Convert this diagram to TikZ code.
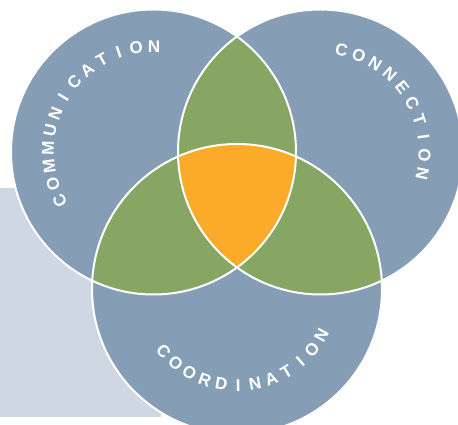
\documentclass[tikz,border=0pt]{standalone}
\usepackage{fontspec}
\newfontfamily\lblfont{Liberation Sans}
\definecolor{vblue}{RGB}{134,158,181}
\definecolor{vgreen}{RGB}{135,165,99}
\definecolor{vorange}{RGB}{251,170,41}
\definecolor{vgrey}{RGB}{207,216,226}
\newcommand{\lblfmt}{\lblfont\bfseries}
\newcommand{\lblscale}{1.7}
\newlength{\chw}
\tikzset{
  ring/.style={draw=white, line width=2pt},
  lettr/.style={font=\lblfmt, text=white, inner sep=0pt, anchor=center, scale=\lblscale}
}
% #1 centre, #2 radius of letter centres, #3 start edge angle, #4 end edge angle, #5 rotation offset, #6 letters
\newcommand{\arcletters}[6]{%
  \gdef\totw{0}\gdef\nlet{0}%
  \foreach \ch in {#6}{\settowidth{\chw}{\lblfmt\ch}\pgfmathsetmacro\tmp{\totw+\chw*\lblscale}\xdef\totw{\tmp}\pgfmathsetmacro\tmp{\nlet+1}\xdef\nlet{\tmp}}%
  \pgfmathsetmacro\adir{(#4>#3)?1:-1}%
  \pgfmathsetmacro\trk{(abs(#4-#3)/180*pi*#2-\totw)/(\nlet-1)}%
  \xdef\curang{#3}%
  \foreach \ch in {#6}{%
    \settowidth{\chw}{\lblfmt\ch}%
    \pgfmathsetmacro\cw{\chw*\lblscale}%
    \pgfmathsetmacro\amid{\curang+\adir*(\cw/2)/(pi*#2)*180}%
    \path (#1) ++(\amid:#2) node[lettr, rotate=\amid+#5] {\ch};
    \pgfmathsetmacro\tmp{\curang+\adir*(\cw+\trk)/(pi*#2)*180}%
    \xdef\curang{\tmp}%
  }}
\begin{document}
\begin{tikzpicture}[x=1pt,y=1pt]
\clip (0,0) rectangle (458,425);
\fill[vgrey] (0,8) rectangle (161,237);
\coordinate (L) at (153.5,273);
\coordinate (R) at (320.5,273);
\coordinate (B) at (237,136);
\def\rs{142.5}
\def\rb{145}
% base circles
\fill[vblue] (L) circle[radius=\rs];
\fill[vblue] (R) circle[radius=\rs];
\fill[vblue] (B) circle[radius=\rb];
% pairwise overlaps
\begin{scope}
  \clip (L) circle[radius=\rs];
  \fill[vgreen] (R) circle[radius=\rs];
  \fill[vgreen] (B) circle[radius=\rb];
\end{scope}
\begin{scope}
  \clip (R) circle[radius=\rs];
  \fill[vgreen] (B) circle[radius=\rb];
\end{scope}
% triple overlap
\begin{scope}
  \clip (L) circle[radius=\rs];
  \clip (R) circle[radius=\rs];
  \fill[vorange] (B) circle[radius=\rb];
\end{scope}
% outlines
\draw[ring] (L) circle[radius=\rs];
\draw[ring] (R) circle[radius=\rs];
\draw[ring] (B) circle[radius=\rb];
% labels
\arcletters{L}{105.5}{207.5}{89.7}{-90}{C,O,M,M,U,N,I,C,A,T,I,O,N}
\arcletters{R}{104}{78.3}{-12}{-90}{C,O,N,N,E,C,T,I,O,N}
\arcletters{B}{96.5}{220.4}{331.1}{90}{C,O,O,R,D,I,N,A,T,I,O,N}
\end{tikzpicture}
\end{document}
